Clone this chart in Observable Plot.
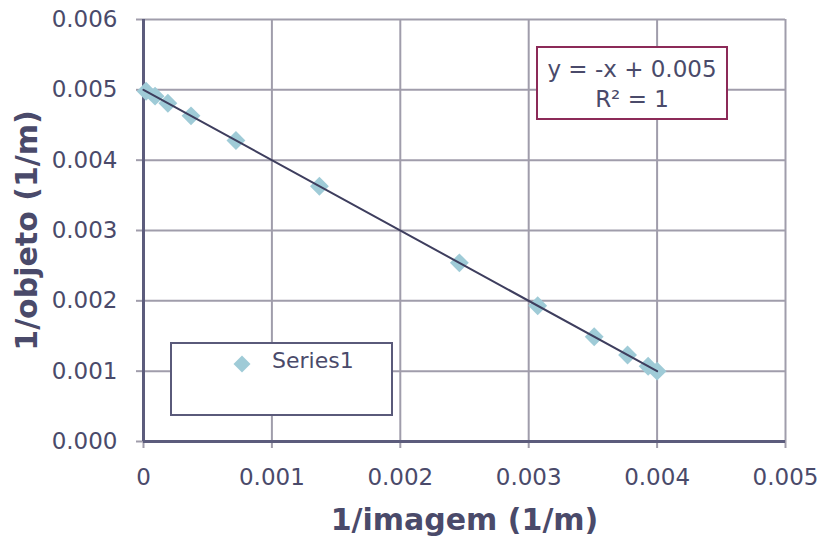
<!DOCTYPE html>
<html>
<head>
<meta charset="utf-8">
<script src="https://cdn.jsdelivr.net/npm/d3@7"></script>
<script src="https://cdn.jsdelivr.net/npm/@observablehq/plot@0.6"></script>
<style>
  html, body { margin: 0; padding: 0; background: #fff; }
  #wrap { position: relative; width: 819px; height: 538px; font-family: "DejaVu Sans", sans-serif; color: #4a4a6a; }
  .box { position: absolute; background: #fff; box-sizing: border-box; }
  #legend { left: 170px; top: 342px; width: 223px; height: 74px; border: 2px solid #5a5a7a; }
  #legend .sym { position: absolute; left: 64px; top: 14px; width: 12px; height: 12px; background: #9fcbd7; transform: rotate(45deg); }
  #legend .lab { position: absolute; left: 100px; top: 4px; font-size: 22px; }
  #eq { left: 536px; top: 46px; width: 192px; height: 74px; border: 2px solid #8c2a58; text-align: center; font-size: 23px; line-height: 30px; padding-top: 6px; }
</style>
</head>
<body>
<div id="wrap"></div>
<script>
// Data
const invImage  = [0.00002, 0.00009, 0.00019, 0.00037, 0.00072, 0.00137, 0.00246, 0.00307, 0.00351, 0.00377, 0.00393, 0.00400];
const invObject = [0.00498, 0.00491, 0.00481, 0.00463, 0.00428, 0.00363, 0.00254, 0.00193, 0.00149, 0.00123, 0.00107, 0.00100];
const xTicks = [0, 0.001, 0.002, 0.003, 0.004, 0.005];
const yTicks = [0, 0.001, 0.002, 0.003, 0.004, 0.005, 0.006];
const trendX = [0, 0.004];
const slope = -1, intercept = 0.005;
const seriesName = "Series1";
const equationText = ["y = -x + 0.005", "R² = 1"];
const xTitle = "1/imagem (1/m)";
const yTitle = "1/objeto (1/m)";

const points = invImage.map((x, i) => ({x, y: invObject[i]}));
const trend = trendX.map(x => ({x, y: slope * x + intercept}));

const textColor = "#4a4a6a";
const axisColor = "#5c5c7c";
const gridColor = "#a09dab";

const chart = Plot.plot({
  width: 819,
  height: 538,
  marginLeft: 143,
  marginRight: 34,
  marginTop: 19,
  marginBottom: 97,
  style: { fontFamily: "DejaVu Sans, sans-serif", fontSize: "23px", color: textColor, background: "#fff" },
  x: { domain: [0, 0.005] },
  y: { domain: [0, 0.006] },
  marks: [
    Plot.gridX(xTicks, { stroke: gridColor, strokeOpacity: 1, strokeWidth: 2 }),
    Plot.gridY(yTicks, { stroke: gridColor, strokeOpacity: 1, strokeWidth: 2 }),
    Plot.axisX(xTicks, { tickSize: 7, tickPadding: 20, stroke: gridColor, strokeWidth: 2, fontSize: 23, fill: textColor,
      tickFormat: d => d === 0 ? "0" : d3.format(".3f")(d), label: null }),
    Plot.axisY(yTicks, { tickSize: 7, tickPadding: 19, stroke: gridColor, strokeWidth: 2, fontSize: 23, fill: textColor,
      tickFormat: d3.format(".3f"), label: null }),
    Plot.ruleX([0], { stroke: axisColor, strokeWidth: 3 }),
    Plot.ruleY([0], { stroke: axisColor, strokeWidth: 3 }),
    Plot.dot(points, { x: "x", y: "y", symbol: "diamond2", r: 8.5, fill: "#9fcbd7", stroke: null }),
    Plot.line(trend, { x: "x", y: "y", stroke: "#3e3e5e", strokeWidth: 2 }),
    Plot.text([xTitle], { frameAnchor: "bottom", dy: 88, fontSize: 30, fontWeight: "bold", fill: textColor, textAnchor: "middle" }),
    Plot.text([yTitle], { frameAnchor: "left", dx: -116, rotate: -90, textAnchor: "middle", fontSize: 30, fontWeight: "bold", fill: textColor })
  ]
});

const wrap = document.getElementById("wrap");
wrap.appendChild(chart);

const legend = document.createElement("div");
legend.id = "legend"; legend.className = "box";
legend.innerHTML = `<div class="sym"></div><div class="lab">${seriesName}</div>`;
wrap.appendChild(legend);

const eq = document.createElement("div");
eq.id = "eq"; eq.className = "box";
eq.innerHTML = equationText.join("<br>");
wrap.appendChild(eq);

chart.style.position = "absolute";
chart.style.left = "0";
chart.style.top = "0";
</script>
</body>
</html>
